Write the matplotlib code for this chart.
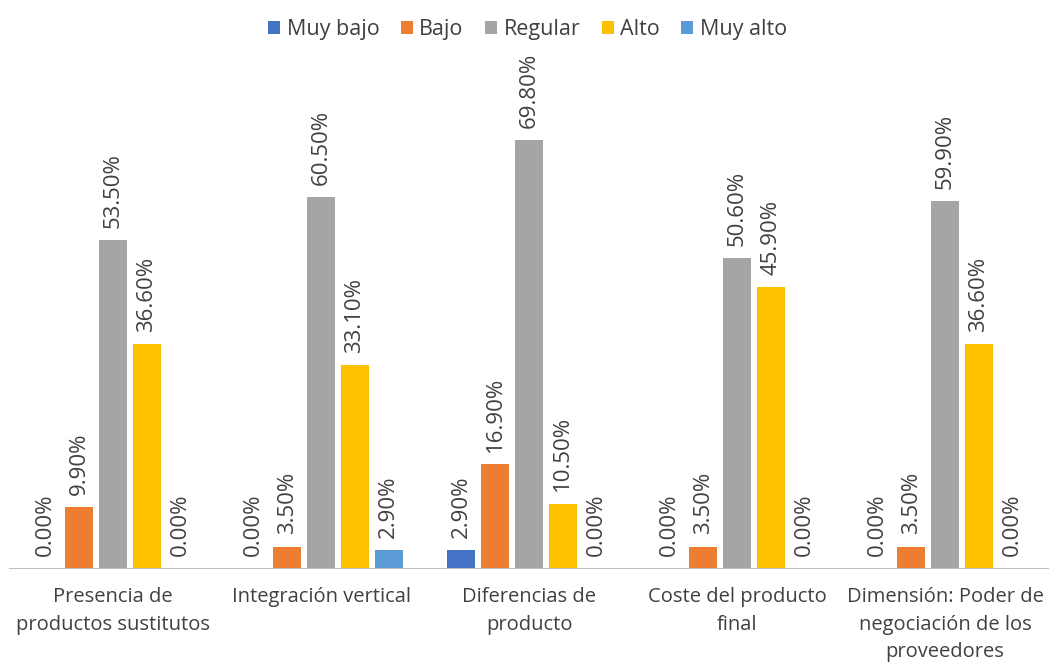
import numpy as np
import matplotlib.pyplot as plt

plt.rcParams['font.family'] = ['Open Sans', 'DejaVu Sans']

categories = ["Presencia de\nproductos sustitutos", "Integración vertical",
              "Diferencias de\nproducto", "Coste del producto\nfinal",
              "Dimensión: Poder de\nnegociación de los\nproveedores"]
series = ["Muy bajo", "Bajo", "Regular", "Alto", "Muy alto"]
muy_bajo = [0.0, 0.0, 2.9, 0.0, 0.0]
bajo = [9.9, 3.5, 16.9, 3.5, 3.5]
regular = [53.5, 60.5, 69.8, 50.6, 59.9]
alto = [36.6, 33.1, 10.5, 45.9, 36.6]
muy_alto = [0.0, 2.9, 0.0, 0.0, 0.0]
values = [muy_bajo, bajo, regular, alto, muy_alto]
colors = ["#4472C4", "#ED7D31", "#A5A5A5", "#FFC000", "#5B9BD5"]

fig = plt.figure(figsize=(10.49, 6.68), dpi=100)
ax = fig.add_axes([9/1049, (668-568)/668, 1040/1049, 490/668])

x = np.arange(len(categories))
step = 0.163
width = 0.135
for i, (name, vals, c) in enumerate(zip(series, values, colors)):
    pos = x + (i - 2) * step
    ax.bar(pos, vals, width, color=c, label=name)
    for p, v in zip(pos, vals):
        ax.text(p, v + 2.0, f"{v:.2f}%", rotation=90, ha='center', va='bottom',
                fontsize=16, color='#404040')

ax.set_xlim(-0.5, 4.5)
ax.set_ylim(0, 80)
ax.set_xticks(x)
ax.set_xticklabels(categories, fontsize=14.5, color='#404040', linespacing=1.5)
ax.tick_params(axis='x', length=0, pad=14)
ax.set_yticks([])
for s in ['top', 'right', 'left']:
    ax.spines[s].set_visible(False)
ax.spines['bottom'].set_color('#BFBFBF')

fig.legend(loc='upper center', bbox_to_anchor=(0.503, 1.0), ncol=5, frameon=False,
           fontsize=15.5, handlelength=0.55, handleheight=0.55, handletextpad=0.3,
           columnspacing=1.0, labelcolor='#404040')

fig.savefig("out.png", dpi=100)
